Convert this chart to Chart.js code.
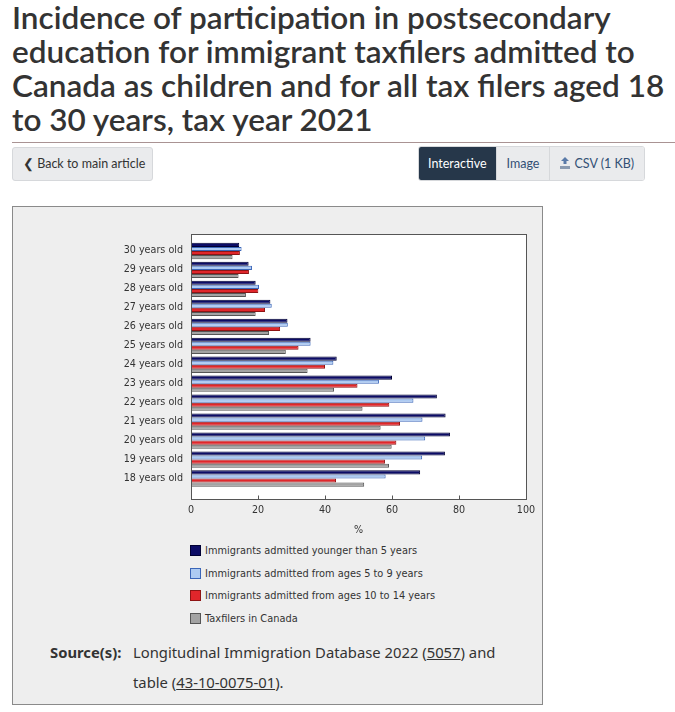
<!DOCTYPE html>
<html>
<head>
<meta charset="utf-8">
<script src="https://cdn.jsdelivr.net/npm/chart.js@4/dist/chart.umd.min.js"></script>
<style>
  body { margin: 0; background: #fff; width: 675px; height: 712px; position: relative; overflow: hidden; font-family: Lato, sans-serif; }
  h1 { position: absolute; left: 12px; top: 0; margin: 0; width: 655px; font: 600 31.5px/34px Lato, sans-serif; color: #333; }
  .rule { position: absolute; left: 12px; top: 142px; width: 663px; height: 1px; background: #a99393; }
  .btn { position: absolute; box-sizing: border-box; height: 34px; font: 12.5px/32px Lato, sans-serif; color: #333; background: #eaebed; border: 1px solid #d6d8db; border-radius: 3px; padding: 0 0 0 10px; white-space: nowrap; }
  .grp { position: absolute; left: 418px; top: 146px; height: 35px; display: flex; border: 1px solid #d6d8db; border-radius: 3px; overflow: hidden; box-sizing: border-box; white-space: nowrap; }
  .grp span { font: 12.5px/33px Lato, sans-serif; padding: 0 10px; color: #335075; background: #eaebed; border-left: 1px solid #d6d8db; }
  .grp span.on { background: #26374a; color: #fff; border-left: none; padding: 0 9px; }
  .grp svg { vertical-align: -1px; margin-right: 4px; }
  .box { position: absolute; left: 12px; top: 206px; width: 531px; height: 499px; background: #eeeeee; border: 1px solid #8a8a8a; box-sizing: border-box; }
  canvas { position: absolute; left: 12px; top: 206px; }
  #legend { position: absolute; left: 190px; top: 539px; font: 9.8px 'DejaVu Sans', sans-serif; color: #333; }
  #legend div { height: 22.7px; display: flex; align-items: center; }
  #legend i { display: inline-block; width: 9px; height: 9px; margin-right: 4px; border: 1px solid #555; }
  .src { position: absolute; left: 50px; top: 637px; font: 14.8px/30px 'Noto Sans', sans-serif; color: #333; }
  .src b { position: absolute; left: 0; top: 0; white-space: nowrap; }
  .src p { position: absolute; left: 83px; top: 0; width: 385px; margin: 0; }
  .src a { color: #333; text-decoration: underline; }
</style>
</head>
<body>
<h1>Incidence of participation in postsecondary education for immigrant taxfilers admitted to Canada as children and for all tax filers aged 18 to 30 years, tax year 2021</h1>
<div class="rule"></div>
<div class="btn" style="left:12px; top:147px; width:141px;">&#10094; Back to main article</div>
<div class="grp"><span class="on">Interactive</span><span>Image</span><span><svg width="10" height="12" viewBox="0 0 10 12"><path d="M5 0 L9 4 H6.5 V7 H3.5 V4 H1 Z" fill="#5a7aa8"/><rect x="0" y="9" width="10" height="3" fill="#8a9ab0"/></svg>CSV (1 KB)</span></div>
<div class="box"></div>
<canvas id="chart" width="531" height="330"></canvas>
<div id="legend"></div>
<div class="src"><b>Source(s):</b><p>Longitudinal Immigration Database 2022 (<a>5057</a>) and table (<a>43-10-0075-01</a>).</p></div>
<script>
const categories = ['30 years old', '29 years old', '28 years old', '27 years old', '26 years old', '25 years old',
  '24 years old', '23 years old', '22 years old', '21 years old', '20 years old', '19 years old', '18 years old'];
const seriesNames = ['Immigrants admitted younger than 5 years', 'Immigrants admitted from ages 5 to 9 years',
  'Immigrants admitted from ages 10 to 14 years', 'Taxfilers in Canada'];
const under5 = [14.4, 17.2, 19.3, 23.7, 28.8, 35.7, 43.5, 60.0, 73.4, 76.0, 77.3, 75.8, 68.4];
const ages5to9 = [15.1, 18.2, 20.3, 24.1, 28.9, 35.7, 42.5, 56.1, 66.4, 69.1, 69.9, 69.0, 58.1];
const ages10to14 = [14.6, 17.3, 20.1, 22.1, 26.6, 32.1, 40.0, 49.7, 59.2, 62.4, 61.3, 57.9, 43.3];
const allTaxfilers = [12.4, 14.2, 16.4, 19.3, 23.3, 28.3, 34.8, 42.7, 51.2, 56.6, 59.9, 59.1, 51.7];
const xTicks = [0, 20, 40, 60, 80, 100];

const fills = ['#0c0c66', '#aecbf2', '#e0262b', '#a3a3a3'];
const borders = ['#000033', '#3b66b8', '#8e1414', '#555555'];

// the frame sits a little outside the bar area (extra room above and below the categories)
const frameTop = 7.5;
const frameBottom = 11;

// white plot area, frame and small inward ticks on the bottom axis
const plotFrame = {
  id: 'plotFrame',
  beforeDatasetsDraw(chart) {
    const { ctx, chartArea: a } = chart;
    ctx.save();
    ctx.fillStyle = '#fff';
    ctx.fillRect(a.left, a.top - frameTop, a.right - a.left, a.bottom - a.top + frameTop + frameBottom);
    ctx.restore();
  },
  afterDatasetsDraw(chart) {
    const { ctx, chartArea: a } = chart;
    const x = chart.scales.x;
    const top = Math.round(a.top - frameTop) + 0.5;
    const bottom = Math.round(a.bottom + frameBottom) + 0.5;
    ctx.save();
    ctx.strokeStyle = '#555';
    ctx.lineWidth = 1;
    ctx.strokeRect(Math.round(a.left) + 0.5, top, Math.round(a.right - a.left), bottom - top);
    ctx.beginPath();
    xTicks.slice(1, -1).forEach(v => {
      const px = Math.round(x.getPixelForValue(v)) + 0.5;
      ctx.moveTo(px, bottom);
      ctx.lineTo(px, bottom - 4);
    });
    ctx.stroke();
    ctx.restore();
  }
};

const chart = new Chart(document.getElementById('chart'), {
  type: 'bar',
  data: {
    labels: categories,
    datasets: [under5, ages5to9, ages10to14, allTaxfilers].map((d, i) => ({
      label: seriesNames[i],
      data: d,
      backgroundColor: fills[i],
      borderColor: borders[i],
      borderWidth: 1,
      categoryPercentage: 0.86,
      barPercentage: 1.0,
    })),
  },
  options: {
    indexAxis: 'y',
    responsive: false,
    animation: false,
    layout: { padding: { top: 35.5, right: 17, left: 0, bottom: 0 } },
    plugins: {
      legend: { display: false },
      tooltip: { enabled: false },
    },
    scales: {
      x: {
        min: 0,
        max: 100,
        afterBuildTicks(scale) { scale.ticks = xTicks.map(v => ({ value: v })); },
        afterFit(scale) {
          scale.height = 48;
          scale.paddingLeft = 0;
          scale.paddingRight = 0;
        },
        grid: { display: false, drawTicks: false },
        border: { display: false },
        ticks: { padding: 6 + frameBottom, maxRotation: 0, color: '#333', font: { family: 'DejaVu Sans', size: 9.6 } },
        title: { display: true, text: '%', color: '#333', padding: { top: 4, bottom: 0 }, font: { family: 'DejaVu Sans', size: 9.6 } },
      },
      y: {
        afterFit(scale) { scale.width = 179; },
        grid: { display: false, drawTicks: false },
        border: { display: false },
        ticks: { padding: 8, color: '#333', font: { family: 'DejaVu Sans', size: 9.6 } },
      },
    },
  },
  plugins: [plotFrame],
});

// legend list, one entry per row, from the chart's datasets
const legend = document.getElementById('legend');
chart.data.datasets.forEach(ds => {
  const row = document.createElement('div');
  row.innerHTML = '<i style="background:' + ds.backgroundColor + ';border-color:' + ds.borderColor + '"></i>' + ds.label;
  legend.appendChild(row);
});
</script>
</body>
</html>
